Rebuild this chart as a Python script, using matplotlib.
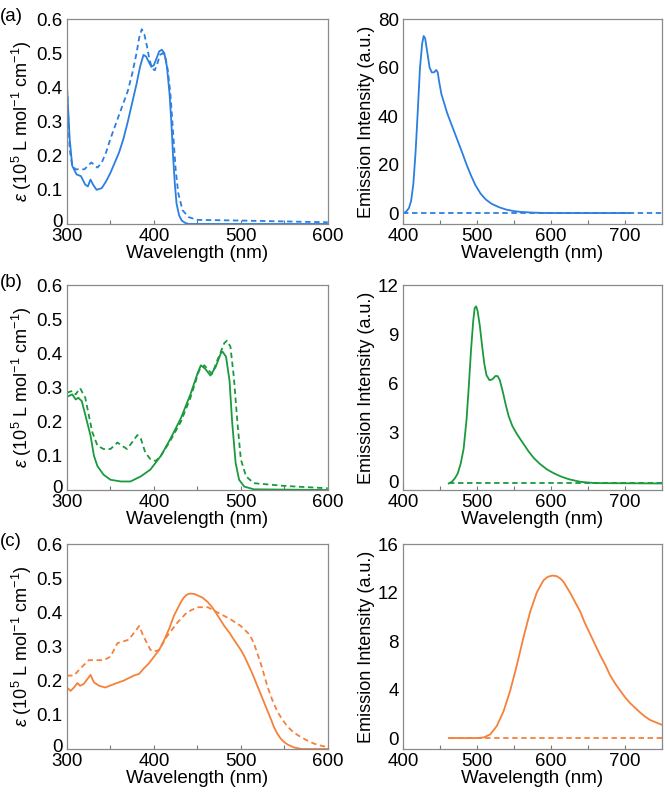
import matplotlib
matplotlib.use("Agg")
import matplotlib.pyplot as plt
from matplotlib.ticker import MultipleLocator
from matplotlib.transforms import ScaledTranslation

plt.rcParams["font.family"] = ["Liberation Sans", "DejaVu Sans"]
plt.rcParams["mathtext.fontset"] = "custom"
plt.rcParams["mathtext.rm"] = "Liberation Sans"
plt.rcParams["mathtext.it"] = "Liberation Sans:italic"

BLUE = "#2b7fe0"
GREEN = "#1a9a3c"
ORANGE = "#f5813a"

# ---- (a) absorption ----
a_abs_wl = [300, 303, 306, 311, 316, 321, 324, 327, 330, 334, 340, 345, 350, 355, 360, 365, 370, 375,
            380, 384, 388, 391, 394, 397, 400, 403, 406, 409, 412, 415, 418, 420, 422, 424, 426,
            429, 432, 436, 440, 450, 600]
a_abs_sol = [0.40, 0.25, 0.17, 0.145, 0.14, 0.115, 0.11, 0.13, 0.115, 0.10, 0.105, 0.125, 0.15, 0.18,
             0.21, 0.25, 0.30, 0.355, 0.41, 0.46, 0.495, 0.49, 0.475, 0.46, 0.465, 0.485, 0.505, 0.51,
             0.50, 0.46, 0.38, 0.30, 0.20, 0.12, 0.06, 0.025, 0.01, 0.003, 0.0, 0.0, 0.0]
a_abs_wl2 = [300, 303, 306, 310, 320, 328, 335, 340, 345, 350, 355, 360, 365, 370, 375, 380, 383,
             386, 389, 392, 395, 398, 401, 404, 407, 410, 413, 416, 419, 422, 425, 428, 433, 440,
             450, 500, 600]
a_abs_das = [0.40, 0.22, 0.17, 0.16, 0.16, 0.18, 0.165, 0.18, 0.21, 0.25, 0.285, 0.32, 0.355, 0.39,
             0.44, 0.50, 0.545, 0.57, 0.555, 0.52, 0.48, 0.455, 0.45, 0.47, 0.495, 0.50, 0.49, 0.45,
             0.38, 0.27, 0.16, 0.09, 0.04, 0.02, 0.012, 0.01, 0.005]

# ---- (a) emission ----
a_em_wl = [400, 404, 408, 411, 414, 417, 420, 423, 426, 428, 430, 433, 436, 439, 442, 445, 447,
           449, 452, 456, 460, 465, 470, 475, 480, 486, 492, 498, 505, 512, 520, 530, 540, 550,
           560, 575, 590, 610, 707]
a_em_sol = [0.0, 0.5, 2.0, 5.0, 12.0, 25.0, 42.0, 60.0, 70.0, 73.0, 72.0, 66.0, 60.0, 58.0, 58.0,
            59.0, 58.0, 54.0, 49.0, 45.0, 41.0, 37.0, 33.0, 29.0, 25.0, 20.0, 15.5, 11.5, 8.0, 5.6,
            3.8, 2.4, 1.4, 0.8, 0.45, 0.2, 0.05, 0.0, 0.0]
a_em_dash_wl = [400, 750]
a_em_dash = [0.0, 0.0]

# ---- (b) absorption ----
b_abs_wl = [300, 306, 310, 313, 317, 323, 327, 331, 335, 342, 350, 362, 373, 385, 396, 408, 419,
            431, 442, 450, 454, 459, 465, 471, 477, 479, 483, 487, 490, 494, 498, 504, 515, 600]
b_abs_sol = [0.273, 0.28, 0.265, 0.27, 0.26, 0.20, 0.16, 0.10, 0.07, 0.045, 0.03, 0.025, 0.025, 0.04, 0.06,
             0.10, 0.15, 0.21, 0.28, 0.34, 0.365, 0.355, 0.335, 0.36, 0.40, 0.405, 0.39, 0.32, 0.20, 0.08,
             0.03, 0.01, 0.002, 0.0]
b_abs_wl2 = [300, 306, 310, 315, 321, 325, 329, 335, 342, 350, 358, 363, 369, 375, 381, 385, 390,
             396, 402, 408, 419, 431, 442, 452, 458, 463, 467, 473, 481, 484, 488, 492, 496, 500,
             506, 515, 550, 600]
b_abs_das = [0.285, 0.29, 0.28, 0.298, 0.27, 0.22, 0.17, 0.13, 0.12, 0.12, 0.139, 0.13, 0.12, 0.14, 0.161,
             0.15, 0.11, 0.09, 0.085, 0.10, 0.145, 0.20, 0.27, 0.35, 0.365, 0.35, 0.34, 0.38, 0.43, 0.437,
             0.42, 0.33, 0.20, 0.09, 0.04, 0.02, 0.012, 0.005]

# ---- (b) emission ----
b_em_wl = [462, 466, 470, 474, 478, 482, 486, 489, 492, 495, 497, 499, 501, 504, 507, 510, 513,
           517, 521, 525, 528, 531, 535, 539, 543, 548, 553, 558, 564, 570, 577, 585, 595, 605,
           615, 625, 640, 660, 750]
b_em_sol = [-0.1, 0.0, 0.2, 0.5, 1.1, 2.0, 3.8, 5.8, 8.0, 9.8, 10.6, 10.7, 10.4, 9.5, 8.3, 7.2, 6.5,
            6.2, 6.25, 6.45, 6.45, 6.2, 5.5, 4.7, 4.0, 3.4, 3.0, 2.65, 2.25, 1.85, 1.45, 1.1, 0.75,
            0.5, 0.3, 0.15, 0.0, -0.08, -0.1]
b_em_dash_wl = [462, 750]
b_em_dash = [-0.1, -0.1]

# ---- (c) absorption ----
c_abs_wl = [300, 304, 308, 312, 315, 319, 325, 327, 331, 337, 344, 354, 365, 377, 383, 388, 394,
            400, 406, 412, 418, 423, 427, 431, 434, 437, 440, 442, 446, 450, 456, 462, 467, 471,
            476, 481, 487, 492, 496, 500, 504, 508, 512, 515, 519, 523, 527, 531, 535, 538, 542,
            546, 550, 554, 558, 562, 566, 570, 580, 600]
c_abs_sol = [0.18, 0.17, 0.18, 0.193, 0.185, 0.19, 0.21, 0.217, 0.195, 0.185, 0.18, 0.19, 0.20, 0.215,
             0.22, 0.235, 0.25, 0.27, 0.29, 0.32, 0.355, 0.39, 0.41, 0.43, 0.442, 0.45, 0.454, 0.455,
             0.454, 0.45, 0.443, 0.43, 0.415, 0.40, 0.38, 0.36, 0.34, 0.32, 0.305, 0.29, 0.272, 0.25,
             0.228, 0.21, 0.185, 0.16, 0.135, 0.11, 0.085, 0.065, 0.045, 0.03, 0.02, 0.013, 0.008,
             0.004, 0.002, 0.0, 0.0, 0.0]
c_abs_wl2 = [300, 308, 315, 325, 331, 342, 350, 358, 365, 371, 377, 383, 388, 396, 400, 406, 415,
             427, 438, 450, 462, 473, 488, 500, 510, 515, 519, 523, 527, 531, 536, 542, 548, 554,
             561, 569, 577, 585, 592, 600]
c_abs_das = [0.215, 0.215, 0.235, 0.26, 0.26, 0.26, 0.27, 0.31, 0.315, 0.32, 0.34, 0.36, 0.33, 0.29,
             0.285, 0.29, 0.33, 0.37, 0.40, 0.415, 0.415, 0.40, 0.38, 0.36, 0.335, 0.31, 0.28, 0.25,
             0.215, 0.18, 0.145, 0.11, 0.085, 0.065, 0.048, 0.035, 0.024, 0.015, 0.01, 0.005]

# ---- (c) emission ----
c_em_wl = [462, 500, 509, 518, 527, 536, 545, 554, 563, 572, 581, 590, 596, 602, 608, 613, 617,
           626, 633, 640, 646, 653, 660, 667, 674, 680, 687, 694, 700, 707, 714, 721, 727, 734,
           742, 750]
c_em_sol = [0.0, 0.0, 0.05, 0.3, 1.0, 2.2, 3.9, 6.0, 8.3, 10.4, 12.0, 13.0, 13.3, 13.4, 13.35, 13.15,
            12.9, 12.0, 11.2, 10.4, 9.5, 8.6, 7.7, 6.8, 6.0, 5.2, 4.5, 3.9, 3.4, 2.9, 2.5, 2.1, 1.8,
            1.5, 1.3, 1.1]
c_em_dash_wl = [462, 750]
c_em_dash = [0.0, 0.0]

abs_label = r"$ε$ (10$^5$ L mol$^{-1}$ cm$^{-1}$)"
em_label = "Emission Intensity (a.u.)"

fig = plt.figure(figsize=(6.65, 7.92), dpi=100)

rows = [0.7172, 0.3813, 0.0543]
h = 0.2588


def style(ax, xlim, ylim, yticks, ytl, ylabel):
    ax.set_xlim(*xlim)
    ax.set_ylim(*ylim)
    ax.set_yticks(yticks)
    ax.set_yticklabels(ytl)
    ax.xaxis.set_major_locator(MultipleLocator(100))
    ax.xaxis.set_minor_locator(MultipleLocator(50))
    ax.tick_params(axis="x", which="both", direction="in", length=3, width=0.8,
                   color="#777777", labelsize=13.5, pad=3)
    ax.tick_params(axis="y", length=0, labelsize=13.5, pad=3)
    for s in ax.spines.values():
        s.set_color("#8a8a8a")
        s.set_linewidth(0.9)
    ax.set_xlabel("Wavelength (nm)", fontsize=13.5, labelpad=0)
    ax.set_ylabel(ylabel, fontsize=13, labelpad=2)


panels = [
    ("(a)", BLUE, a_abs_wl, a_abs_sol, a_abs_wl2, a_abs_das,
     a_em_wl, a_em_sol, a_em_dash_wl, a_em_dash, (-4.5, 80), [0, 20, 40, 60, 80]),
    ("(b)", GREEN, b_abs_wl, b_abs_sol, b_abs_wl2, b_abs_das,
     b_em_wl, b_em_sol, b_em_dash_wl, b_em_dash, (-0.5, 12), [0, 3, 6, 9, 12]),
    ("(c)", ORANGE, c_abs_wl, c_abs_sol, c_abs_wl2, c_abs_das,
     c_em_wl, c_em_sol, c_em_dash_wl, c_em_dash, (-0.9, 16), [0, 4, 8, 12, 16]),
]

for (tag, col, wl, sol, wl2, das, ewl, esol, edwl, edas, eylim, eyt), y0 in zip(panels, rows):
    ax = fig.add_axes([0.1008, y0, 0.392, h])
    ax.plot(wl, sol, color=col, lw=1.3)
    ax.plot(wl2, das, color=col, lw=1.3, ls=(0, (3, 2)))
    yt = [0, 0.1, 0.2, 0.3, 0.4, 0.5, 0.6]
    style(ax, (300, 600), (0, 0.6), yt, ["0"] + [f"{v:.1f}" for v in yt[1:]], abs_label)
    # lift the bottom "0" a little so it clears the "300" below it
    zero = ax.get_yticklabels()[0]
    zero.set_transform(zero.get_transform() + ScaledTranslation(0, 0.035, fig.dpi_scale_trans))

    ax2 = fig.add_axes([0.606, y0, 0.389, h])
    ax2.plot(edwl, edas, color=col, lw=1.3, ls=(0, (3, 2)))
    ax2.plot(ewl, esol, color=col, lw=1.3)
    style(ax2, (400, 750), eylim, eyt, [str(v) for v in eyt], em_label)

    fig.text(0.0, y0 + h + 0.003, tag, fontsize=13.5, ha="left", va="center")

fig.savefig("out.png", dpi=100)
